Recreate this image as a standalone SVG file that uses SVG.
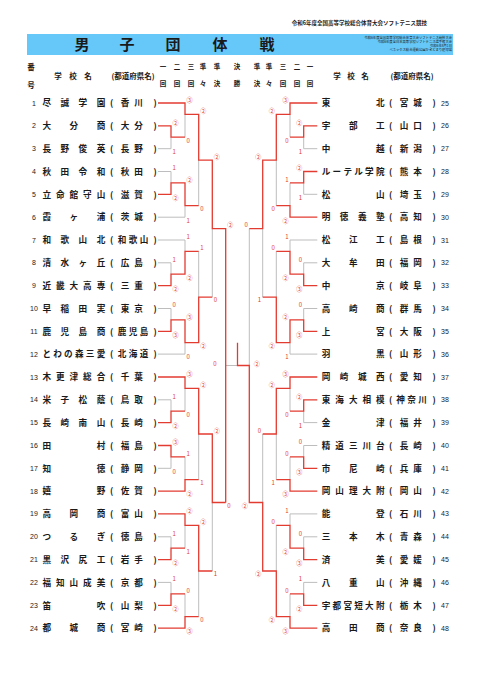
<svg xmlns="http://www.w3.org/2000/svg" width="480" height="679" viewBox="0 0 480 679">
<style>
text{font-family:"Noto Sans CJK JP","Noto Sans CJK SC",sans-serif}
.nm{font-size:8.6px;font-weight:bold;text-anchor:middle;fill:#1a1a1a}
.no{font-family:"Liberation Sans",sans-serif;font-size:7px;text-anchor:middle;fill:#1a1a1a}
.nor{font-family:"Liberation Sans",sans-serif;font-size:7px;text-anchor:start;fill:#1a1a1a}
.hd{font-size:7.5px;font-weight:bold;text-anchor:middle;fill:#1a1a1a}
.rd{font-size:6.5px;font-weight:bold;text-anchor:middle;fill:#1a1a1a}
.r{stroke:#e23b30;stroke-width:1.3;fill:none}
.g{stroke:#bdbdbd;stroke-width:1;fill:none}
.s{font-size:6px;fill:#e23b30}
.sl{text-anchor:start}
.sr{text-anchor:end}
.tt{font-size:15px;font-weight:bold;text-anchor:middle;fill:#1a1a1a}
.sm{font-size:3.3px;text-anchor:end;fill:#1a1a1a}
</style>
<rect width="480" height="679" fill="#fff"/>
<g id="header">
<text x="427" y="25" style="font-size:5.5px;font-weight:bold;text-anchor:end;fill:#1a1a1a">令和6年度全国高等学校総合体育大会ソフトテニス競技</text>
<rect x="27" y="34" width="426" height="21" fill="#66c8f8"/>
<text class="tt" x="82" y="50.2">男</text>
<text class="tt" x="127" y="50.2">子</text>
<text class="tt" x="173" y="50.2">団</text>
<text class="tt" x="220" y="50.2">体</text>
<text class="tt" x="267" y="50.2">戦</text>
<text class="sm" x="452" y="39.2">令和6年度全国高等学校総合体育大会ソフトテニス競技大会</text>
<text class="sm" x="452" y="43">令和6年度全日本高等学校ソフトテニス選手権大会</text>
<text class="sm" x="452" y="46.8">令和6年8月1日</text>
<text class="sm" x="452" y="50.6">ベネックス総合運動公園かきどまり庭球場</text>
<text class="hd" x="31" y="69.5">番</text>
<text class="hd" x="31" y="87.5">号</text>
<text class="hd" x="58" y="79">学</text>
<text class="hd" x="73" y="79">校</text>
<text class="hd" x="88" y="79">名</text>
<text class="hd" x="133" y="79">(都道府県名)</text>
<text class="hd" x="337" y="79">学</text>
<text class="hd" x="351" y="79">校</text>
<text class="hd" x="365" y="79">名</text>
<text class="hd" x="412" y="79">(都道府県名)</text>
<text class="rd" x="163 177 191 203 217 237 257 269 283 297 310" y="69">一二三準準決準準三二一</text>
<text class="rd" x="163 177 191 203 217 237 257 269 283 297 310" y="85.5">回回回々決勝決々回回回</text>
</g>
<g id="t1"><text class="no" x="34" y="105.5">1</text><text class="nm" x="46.7 64.8 82.9 101" y="106.2">尽誠学園</text><text class="nm" x="111.5 125 138.5 155" y="106.2">(香川)</text></g>
<g id="t2"><text class="no" x="34" y="128.3">2</text><text class="nm" x="46.7 73.9 101" y="129">大分商</text><text class="nm" x="111.5 125 138.5 155" y="129">(大分)</text></g>
<g id="t3"><text class="no" x="34" y="151.2">3</text><text class="nm" x="46.7 64.8 82.9 101" y="151.9">長野俊英</text><text class="nm" x="111.5 125 138.5 155" y="151.9">(長野)</text></g>
<g id="t4"><text class="no" x="34" y="174">4</text><text class="nm" x="46.7 64.8 82.9 101" y="174.7">秋田令和</text><text class="nm" x="111.5 125 138.5 155" y="174.7">(秋田)</text></g>
<g id="t5"><text class="no" x="34" y="196.8">5</text><text class="nm" x="46.7 60.3 73.9 87.4 101" y="197.5">立命館守山</text><text class="nm" x="111.5 125 138.5 155" y="197.5">(滋賀)</text></g>
<g id="t6"><text class="no" x="34" y="219.7">6</text><text class="nm" x="46.7 73.9 101" y="220.4">霞ヶ浦</text><text class="nm" x="111.5 125 138.5 155" y="220.4">(茨城)</text></g>
<g id="t7"><text class="no" x="34" y="242.5">7</text><text class="nm" x="46.7 64.8 82.9 101" y="243.2">和歌山北</text><text class="nm" x="111.5 122 133 144 155" y="243.2">(和歌山)</text></g>
<g id="t8"><text class="no" x="34" y="265.3">8</text><text class="nm" x="46.7 64.8 82.9 101" y="266">清水ヶ丘</text><text class="nm" x="111.5 125 138.5 155" y="266">(広島)</text></g>
<g id="t9"><text class="no" x="34" y="288.1">9</text><text class="nm" x="46.7 60.3 73.9 87.4 101" y="288.8">近畿大高専</text><text class="nm" x="111.5 125 138.5 155" y="288.8">(三重)</text></g>
<g id="t10"><text class="no" x="34" y="311">10</text><text class="nm" x="46.7 64.8 82.9 101" y="311.7">早稲田実</text><text class="nm" x="111.5 125 138.5 155" y="311.7">(東京)</text></g>
<g id="t11"><text class="no" x="34" y="333.8">11</text><text class="nm" x="46.7 64.8 82.9 101" y="334.5">鹿児島商</text><text class="nm" x="111.5 122 133 144 155" y="334.5">(鹿児島)</text></g>
<g id="t12"><text class="no" x="34" y="356.6">12</text><text class="nm" x="46.7 57.6 68.4 79.3 90.1 101" y="357.3">とわの森三愛</text><text class="nm" x="111.5 122 133 144 155" y="357.3">(北海道)</text></g>
<g id="t13"><text class="no" x="34" y="379.5">13</text><text class="nm" x="46.7 60.3 73.9 87.4 101" y="380.2">木更津総合</text><text class="nm" x="111.5 125 138.5 155" y="380.2">(千葉)</text></g>
<g id="t14"><text class="no" x="34" y="402.3">14</text><text class="nm" x="46.7 64.8 82.9 101" y="403">米子松蔭</text><text class="nm" x="111.5 125 138.5 155" y="403">(鳥取)</text></g>
<g id="t15"><text class="no" x="34" y="425.1">15</text><text class="nm" x="46.7 64.8 82.9 101" y="425.8">長崎南山</text><text class="nm" x="111.5 125 138.5 155" y="425.8">(長崎)</text></g>
<g id="t16"><text class="no" x="34" y="448">16</text><text class="nm" x="46.7 101" y="448.7">田村</text><text class="nm" x="111.5 125 138.5 155" y="448.7">(福島)</text></g>
<g id="t17"><text class="no" x="34" y="470.8">17</text><text class="nm" x="46.7 101" y="471.5">知徳</text><text class="nm" x="111.5 125 138.5 155" y="471.5">(静岡)</text></g>
<g id="t18"><text class="no" x="34" y="493.6">18</text><text class="nm" x="46.7 101" y="494.3">嬉野</text><text class="nm" x="111.5 125 138.5 155" y="494.3">(佐賀)</text></g>
<g id="t19"><text class="no" x="34" y="516.4">19</text><text class="nm" x="46.7 73.9 101" y="517.1">高岡商</text><text class="nm" x="111.5 125 138.5 155" y="517.1">(富山)</text></g>
<g id="t20"><text class="no" x="34" y="539.3">20</text><text class="nm" x="46.7 73.9 101" y="540">つるぎ</text><text class="nm" x="111.5 125 138.5 155" y="540">(徳島)</text></g>
<g id="t21"><text class="no" x="34" y="562.1">21</text><text class="nm" x="46.7 64.8 82.9 101" y="562.8">黒沢尻工</text><text class="nm" x="111.5 125 138.5 155" y="562.8">(岩手)</text></g>
<g id="t22"><text class="no" x="34" y="584.9">22</text><text class="nm" x="46.7 60.3 73.9 87.4 101" y="585.6">福知山成美</text><text class="nm" x="111.5 125 138.5 155" y="585.6">(京都)</text></g>
<g id="t23"><text class="no" x="34" y="607.8">23</text><text class="nm" x="46.7 101" y="608.5">笛吹</text><text class="nm" x="111.5 125 138.5 155" y="608.5">(山梨)</text></g>
<g id="t24"><text class="no" x="34" y="630.6">24</text><text class="nm" x="46.7 73.9 101" y="631.3">都城商</text><text class="nm" x="111.5 125 138.5 155" y="631.3">(宮崎)</text></g>
<g id="t25"><text class="nm" x="326 380.3" y="106.2">東北</text><text class="nm" x="390.5 404 417.5 434" y="106.2">(宮城)</text><text class="nor" x="441" y="105.5">25</text></g>
<g id="t26"><text class="nm" x="326 353.2 380.3" y="129">宇部工</text><text class="nm" x="390.5 404 417.5 434" y="129">(山口)</text><text class="nor" x="441" y="128.3">26</text></g>
<g id="t27"><text class="nm" x="326 380.3" y="151.9">中越</text><text class="nm" x="390.5 404 417.5 434" y="151.9">(新潟)</text><text class="nor" x="441" y="151.2">27</text></g>
<g id="t28"><text class="nm" x="326 336.9 347.7 358.6 369.4 380.3" y="174.7">ルーテル学院</text><text class="nm" x="390.5 404 417.5 434" y="174.7">(熊本)</text><text class="nor" x="441" y="174">28</text></g>
<g id="t29"><text class="nm" x="326 380.3" y="197.5">松山</text><text class="nm" x="390.5 404 417.5 434" y="197.5">(埼玉)</text><text class="nor" x="441" y="196.8">29</text></g>
<g id="t30"><text class="nm" x="326 344.1 362.2 380.3" y="220.4">明徳義塾</text><text class="nm" x="390.5 404 417.5 434" y="220.4">(高知)</text><text class="nor" x="441" y="219.7">30</text></g>
<g id="t31"><text class="nm" x="326 353.2 380.3" y="243.2">松江工</text><text class="nm" x="390.5 404 417.5 434" y="243.2">(島根)</text><text class="nor" x="441" y="242.5">31</text></g>
<g id="t32"><text class="nm" x="326 353.2 380.3" y="266">大牟田</text><text class="nm" x="390.5 404 417.5 434" y="266">(福岡)</text><text class="nor" x="441" y="265.3">32</text></g>
<g id="t33"><text class="nm" x="326 380.3" y="288.8">中京</text><text class="nm" x="390.5 404 417.5 434" y="288.8">(岐阜)</text><text class="nor" x="441" y="288.1">33</text></g>
<g id="t34"><text class="nm" x="326 353.2 380.3" y="311.7">高崎商</text><text class="nm" x="390.5 404 417.5 434" y="311.7">(群馬)</text><text class="nor" x="441" y="311">34</text></g>
<g id="t35"><text class="nm" x="326 380.3" y="334.5">上宮</text><text class="nm" x="390.5 404 417.5 434" y="334.5">(大阪)</text><text class="nor" x="441" y="333.8">35</text></g>
<g id="t36"><text class="nm" x="326 380.3" y="357.3">羽黒</text><text class="nm" x="390.5 404 417.5 434" y="357.3">(山形)</text><text class="nor" x="441" y="356.6">36</text></g>
<g id="t37"><text class="nm" x="326 344.1 362.2 380.3" y="380.2">岡崎城西</text><text class="nm" x="390.5 404 417.5 434" y="380.2">(愛知)</text><text class="nor" x="441" y="379.5">37</text></g>
<g id="t38"><text class="nm" x="326 339.6 353.2 366.7 380.3" y="403">東海大相模</text><text class="nm" x="390.5 400.5 411.5 422.5 434" y="403">(神奈川)</text><text class="nor" x="441" y="402.3">38</text></g>
<g id="t39"><text class="nm" x="326 380.3" y="425.8">金津</text><text class="nm" x="390.5 404 417.5 434" y="425.8">(福井)</text><text class="nor" x="441" y="425.1">39</text></g>
<g id="t40"><text class="nm" x="326 339.6 353.2 366.7 380.3" y="448.7">精道三川台</text><text class="nm" x="390.5 404 417.5 434" y="448.7">(長崎)</text><text class="nor" x="441" y="448">40</text></g>
<g id="t41"><text class="nm" x="326 353.2 380.3" y="471.5">市尼崎</text><text class="nm" x="390.5 404 417.5 434" y="471.5">(兵庫)</text><text class="nor" x="441" y="470.8">41</text></g>
<g id="t42"><text class="nm" x="326 339.6 353.2 366.7 380.3" y="494.3">岡山理大附</text><text class="nm" x="390.5 404 417.5 434" y="494.3">(岡山)</text><text class="nor" x="441" y="493.6">42</text></g>
<g id="t43"><text class="nm" x="326 380.3" y="517.1">能登</text><text class="nm" x="390.5 404 417.5 434" y="517.1">(石川)</text><text class="nor" x="441" y="516.4">43</text></g>
<g id="t44"><text class="nm" x="326 353.2 380.3" y="540">三本木</text><text class="nm" x="390.5 404 417.5 434" y="540">(青森)</text><text class="nor" x="441" y="539.3">44</text></g>
<g id="t45"><text class="nm" x="326 380.3" y="562.8">済美</text><text class="nm" x="390.5 404 417.5 434" y="562.8">(愛媛)</text><text class="nor" x="441" y="562.1">45</text></g>
<g id="t46"><text class="nm" x="326 353.2 380.3" y="585.6">八重山</text><text class="nm" x="390.5 404 417.5 434" y="585.6">(沖縄)</text><text class="nor" x="441" y="584.9">46</text></g>
<g id="t47"><text class="nm" x="326 336.9 347.7 358.6 369.4 380.3" y="608.5">宇都宮短大附</text><text class="nm" x="390.5 404 417.5 434" y="608.5">(栃木)</text><text class="nor" x="441" y="607.8">47</text></g>
<g id="t48"><text class="nm" x="326 353.2 380.3" y="631.3">高田商</text><text class="nm" x="390.5 404 417.5 434" y="631.3">(奈良)</text><text class="nor" x="441" y="630.6">48</text></g>
<g id="connectors">
<path class="g" d="M158 148.7H171V137.2M158 171.5H171V182.9M158 217.2H185V205.7M158 240H185V251.4M158 262.8H171V274.2M158 308.5H171V319.9M158 354.1H185V342.7M158 399.8H171V411.2M158 468.3H171V456.9M158 536.8H171V548.2M158 582.4H171V593.8"/>
<path class="g" d="M185 137.2V114.4M185 411.2V388.4M185 456.9V479.7M185 548.2V525.4M185 593.8V616.7M198.7 205.7V160.1M198.7 251.4V297.1M198.7 479.7V434M198.7 616.7V571M212.3 297.1V228.6M212.3 571V502.5M225.7 365.5H237.5"/>
<path class="g" d="M317.3 148.7H303.7V137.2M317.3 194.3H303.7V182.9M317.3 240H290V251.4M317.3 262.8H303.7V274.2M317.3 308.5H303.7V319.9M317.3 354.1H290V342.7M317.3 422.6H303.7V411.2M317.3 445.5H303.7V456.9M317.3 513.9H290V525.4M317.3 536.8H303.7V548.2M317.3 582.4H303.7V593.8"/>
<path class="g" d="M290 137.2V114.4M290 182.9V205.7M290 411.2V388.4M290 456.9V479.7M290 593.8V616.7M276.3 205.7V160.1M276.3 251.4V297.1M276.3 479.7V434M276.3 525.4V571M262.7 297.1V228.6M262.7 434V502.5M249.3 228.6V365.5"/>
<path class="r" d="M158 103H185V114.4H198.7V160.1H212.3V228.6H225.7V502.5"/>
<path class="r" d="M158 125.8H171V137.2H185M158 194.3H171V182.9H185V205.7H198.7M158 285.6H171V274.2H185V251.4H198.7M158 331.3H171V319.9H185V342.7H198.7V297.1H212.3"/>
<path class="r" d="M158 377H185V388.4H198.7V434H212.3V502.5H225.7M158 422.6H171V411.2H185M158 445.5H171V456.9H185M158 491.1H185V479.7H198.7"/>
<path class="r" d="M158 513.9H185V525.4H198.7V571H212.3M158 559.6H171V548.2H185M158 605.3H171V593.8H185M158 628.1H185V616.7H198.7"/>
<path class="r" d="M317.3 103H290V114.4H276.3V160.1H262.7V228.6H249.3M317.3 125.8H303.7V137.2H290M317.3 171.5H303.7V182.9H290M317.3 217.2H290V205.7H276.3"/>
<path class="r" d="M317.3 285.6H303.7V274.2H290V251.4H276.3M317.3 331.3H303.7V319.9H290V342.7H276.3V297.1H262.7M317.3 377H290V388.4H276.3V434H262.7M317.3 399.8H303.7V411.2H290"/>
<path class="r" d="M317.3 468.3H303.7V456.9H290M317.3 491.1H290V479.7H276.3M317.3 559.6H303.7V548.2H290V525.4H276.3M317.3 605.3H303.7V593.8H290"/>
<path class="r" d="M317.3 628.1H290V616.7H276.3V571H262.7V502.5H249.3V365.5H237.5V342.7"/>
</g>
<g id="scores">
<text class="s sl" x="172.5" y="124.6">②</text><text class="s sl" x="172.5" y="154">1</text>
<text class="s sl" x="172.5" y="170.3">1</text><text class="s sl" x="172.5" y="199.6">②</text>
<text class="s sl" x="172.5" y="261.6">1</text><text class="s sl" x="172.5" y="290.9">②</text>
<text class="s sl" x="172.5" y="307.3">0</text><text class="s sl" x="172.5" y="336.6">③</text>
<text class="s sl" x="172.5" y="398.6">1</text><text class="s sl" x="172.5" y="427.9">②</text>
<text class="s sl" x="172.5" y="444.3">③</text><text class="s sl" x="172.5" y="473.6">0</text>
<text class="s sl" x="172.5" y="535.6">1</text><text class="s sl" x="172.5" y="564.9">②</text>
<text class="s sl" x="172.5" y="581.2">1</text><text class="s sl" x="172.5" y="610.6">②</text>
<text class="s sl" x="186.5" y="101.8">③</text><text class="s sl" x="186.5" y="142.5">0</text>
<text class="s sl" x="186.5" y="181.7">②</text><text class="s sl" x="186.5" y="222.5">1</text>
<text class="s sl" x="186.5" y="238.8">1</text><text class="s sl" x="186.5" y="279.5">②</text>
<text class="s sl" x="186.5" y="318.7">③</text><text class="s sl" x="186.5" y="359.4">0</text>
<text class="s sl" x="186.5" y="375.8">③</text><text class="s sl" x="186.5" y="416.5">0</text>
<text class="s sl" x="186.5" y="455.7">1</text><text class="s sl" x="186.5" y="496.4">②</text>
<text class="s sl" x="186.5" y="512.7">②</text><text class="s sl" x="186.5" y="553.5">1</text>
<text class="s sl" x="186.5" y="592.6">0</text><text class="s sl" x="186.5" y="633.4">③</text>
<text class="s sl" x="200.2" y="113.2">②</text><text class="s sl" x="200.2" y="211">0</text>
<text class="s sl" x="200.2" y="250.2">1</text><text class="s sl" x="200.2" y="348">②</text>
<text class="s sl" x="200.2" y="387.2">②</text><text class="s sl" x="200.2" y="485">1</text>
<text class="s sl" x="200.2" y="524.2">②</text><text class="s sl" x="200.2" y="622">0</text>
<text class="s sl" x="213.8" y="158.9">②</text><text class="s sl" x="213.8" y="302.4">0</text>
<text class="s sl" x="213.8" y="432.8">②</text><text class="s sl" x="213.8" y="576.3">1</text>
<text class="s sl" x="227.2" y="227.4">②</text><text class="s sl" x="227.2" y="507.8">0</text>
<text class="s" x="215" y="365.5" text-anchor="middle">0</text>
<text class="s" x="256.7" y="365.6" text-anchor="middle">②</text>
<text class="s sr" x="302.2" y="124.6">②</text><text class="s sr" x="302.2" y="154">1</text>
<text class="s sr" x="302.2" y="170.3">②</text><text class="s sr" x="302.2" y="199.6">1</text>
<text class="s sr" x="302.2" y="261.6">0</text><text class="s sr" x="302.2" y="290.9">③</text>
<text class="s sr" x="302.2" y="307.3">0</text><text class="s sr" x="302.2" y="336.6">③</text>
<text class="s sr" x="302.2" y="398.6">②</text><text class="s sr" x="302.2" y="427.9">1</text>
<text class="s sr" x="302.2" y="444.3">0</text><text class="s sr" x="302.2" y="473.6">③</text>
<text class="s sr" x="302.2" y="535.6">0</text><text class="s sr" x="302.2" y="564.9">③</text>
<text class="s sr" x="302.2" y="581.2">1</text><text class="s sr" x="302.2" y="610.6">②</text>
<text class="s sr" x="288.5" y="101.8">③</text><text class="s sr" x="288.5" y="142.5">0</text>
<text class="s sr" x="288.5" y="181.7">1</text><text class="s sr" x="288.5" y="222.5">②</text>
<text class="s sr" x="288.5" y="238.8">1</text><text class="s sr" x="288.5" y="279.5">②</text>
<text class="s sr" x="288.5" y="318.7">②</text><text class="s sr" x="288.5" y="359.4">1</text>
<text class="s sr" x="288.5" y="375.8">③</text><text class="s sr" x="288.5" y="416.5">0</text>
<text class="s sr" x="288.5" y="455.7">0</text><text class="s sr" x="288.5" y="496.4">③</text>
<text class="s sr" x="288.5" y="512.7">1</text><text class="s sr" x="288.5" y="553.5">②</text>
<text class="s sr" x="288.5" y="592.6">0</text><text class="s sr" x="288.5" y="633.4">③</text>
<text class="s sr" x="274.8" y="113.2">②</text><text class="s sr" x="274.8" y="211">0</text>
<text class="s sr" x="274.8" y="250.2">0</text><text class="s sr" x="274.8" y="348">②</text>
<text class="s sr" x="274.8" y="387.2">②</text><text class="s sr" x="274.8" y="485">1</text>
<text class="s sr" x="274.8" y="524.2">0</text><text class="s sr" x="274.8" y="622">②</text>
<text class="s sr" x="261.2" y="158.9">②</text><text class="s sr" x="261.2" y="302.4">1</text>
<text class="s sr" x="261.2" y="432.8">0</text><text class="s sr" x="261.2" y="576.3">②</text>
<text class="s sr" x="247.8" y="227.4">0</text><text class="s sr" x="247.8" y="507.8">②</text>
</g>
</svg>
